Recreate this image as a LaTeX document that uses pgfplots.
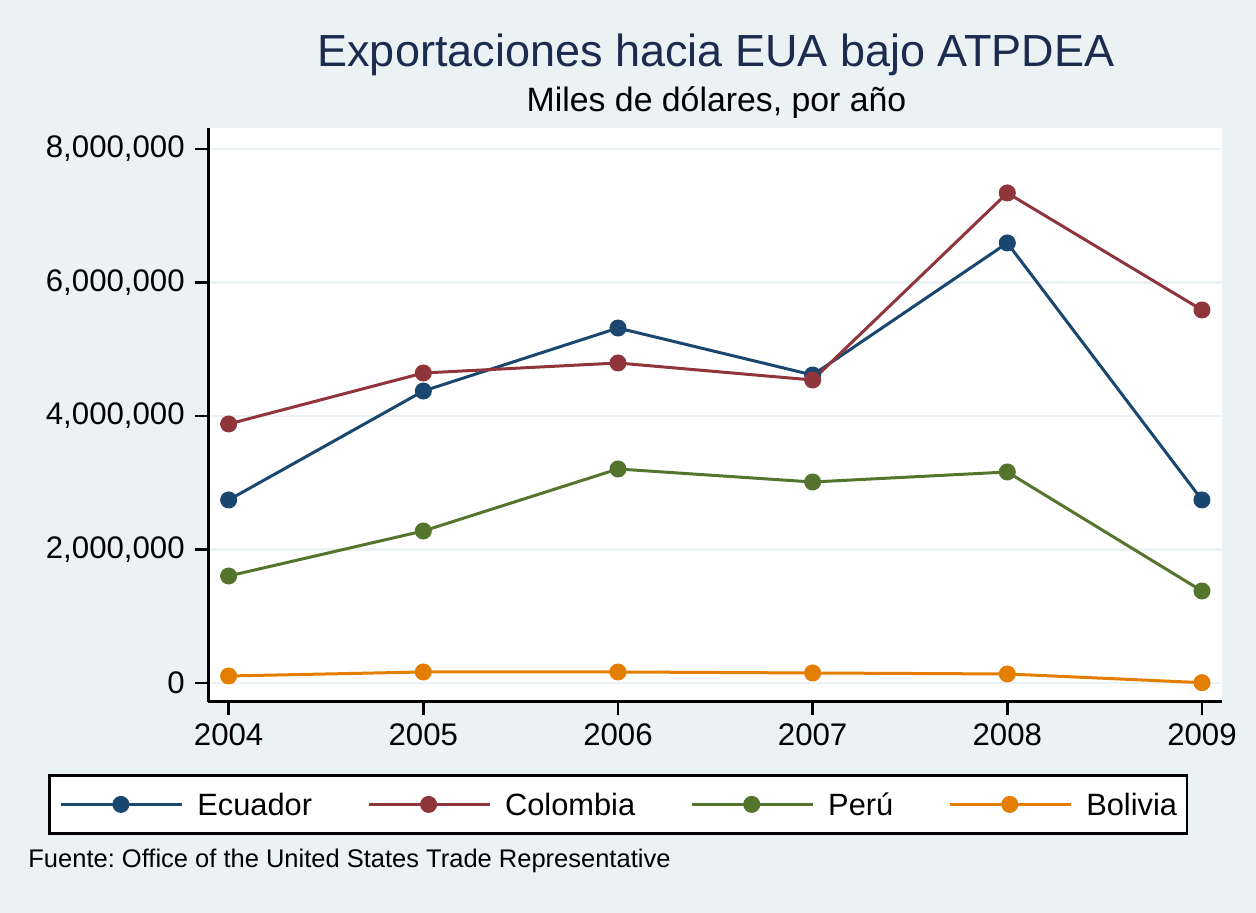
\documentclass[border=0pt]{standalone}
\usepackage{pgfplots}
\pgfplotsset{compat=1.18}
\usepackage{fontspec}
\setmainfont{Liberation Sans}
\frenchspacing
\definecolor{bg}{RGB}{234,242,243}
\definecolor{sNavy}{RGB}{26,71,111}
\definecolor{sMaroon}{RGB}{144,53,59}
\definecolor{sGreen}{RGB}{85,117,47}
\definecolor{sOrange}{RGB}{227,126,0}
\definecolor{titlec}{RGB}{28,44,80}
\begin{document}
\begin{tikzpicture}
\fill[bg] (0,0) rectangle (628pt,456.5pt);
\node[anchor=base, font=\fontsize{22.5}{26}\selectfont, text=titlec, inner sep=0pt] at (358pt,423pt) {Exportaciones hacia EUA bajo ATPDEA};
\node[anchor=base, font=\fontsize{16.9}{20}\selectfont, inner sep=0pt] at (358.25pt,400.5pt) {Miles de dólares, por año};
\node[anchor=base west, font=\fontsize{12.75}{15}\selectfont, inner sep=0pt] at (14pt,22.5pt) {Fuente: Office of the United States Trade Representative};
\begin{axis}[
  at={(104pt,105.5pt)}, anchor=south west,
  scale only axis, width=507pt, height=287pt,
  xmin=2003.894, xmax=2009.103, ymin=-284600, ymax=8314600,
  axis x line*=bottom, axis y line*=left,
  axis line style={-, line width=1.5pt, black},
  axis background/.style={fill=white},
  xtick={2004,2005,2006,2007,2008,2009},
  xticklabels={2004,2005,2006,2007,2008,2009},
  ytick={0,2000000,4000000,6000000,8000000},
  yticklabels={0,{2,000,000},{4,000,000},{6,000,000},{8,000,000}},
  scaled y ticks=false,
  minor tick num=0,
  tick align=outside, major tick length=6.5pt,
  tick style={line width=1.4pt, black},
  ymajorgrids, grid style={line width=1.3pt, bg},
  ticklabel style={font=\fontsize{15.6}{18}\selectfont},
  yticklabel style={inner sep=0pt, xshift=-5pt},
  xticklabel style={inner sep=0pt, yshift=-4pt},
  legend columns=4,
  legend style={
    at={(-0.15779,-0.12544)}, anchor=north west,
    draw=black, line width=1.4pt, fill=white,
    font=\fontsize{15.4}{18}\selectfont,
    inner xsep=5pt, inner ysep=7.25pt,
    nodes={inner sep=0pt},
    /tikz/every odd column/.append style={column sep=7pt},
    /tikz/every even column/.append style={column sep=27.5pt},
  },
  legend cell align=left,
  legend image code/.code={
    \draw[mark repeat=2, mark phase=2, line width=1.5pt] plot coordinates {(0pt,0pt)(30pt,0pt)(60.5pt,0pt)};
  },
]
\addplot[sNavy, line width=1.5pt, mark=*, mark size=4pt, mark options={solid, fill=sNavy, draw=sNavy, line width=0.5pt}]
  coordinates {(2004,2742000)(2005,4374000)(2006,5318000)(2007,4614000)(2008,6592000)(2009,2742000)};
\addplot[sMaroon, line width=1.5pt, mark=*, mark size=4pt, mark options={solid, fill=sMaroon, draw=sMaroon, line width=0.5pt}]
  coordinates {(2004,3880000)(2005,4644000)(2006,4794000)(2007,4539000)(2008,7341000)(2009,5588000)};
\addplot[sGreen, line width=1.5pt, mark=*, mark size=4pt, mark options={solid, fill=sGreen, draw=sGreen, line width=0.5pt}]
  coordinates {(2004,1603000)(2005,2277000)(2006,3206000)(2007,3011000)(2008,3161000)(2009,1378000)};
\addplot[sOrange, line width=1.5pt, mark=*, mark size=4pt, mark options={solid, fill=sOrange, draw=sOrange, line width=0.5pt}]
  coordinates {(2004,105000)(2005,165000)(2006,165000)(2007,150000)(2008,135000)(2009,5000)};
\legend{Ecuador\rule[-1.5pt]{0pt}{14.5pt},Colombia\rule[-1.5pt]{0pt}{14.5pt},Perú\rule[-1.5pt]{0pt}{14.5pt},Bolivia\rule[-1.5pt]{0pt}{14.5pt}\hspace{4pt}}
\end{axis}
\end{tikzpicture}
\end{document}
